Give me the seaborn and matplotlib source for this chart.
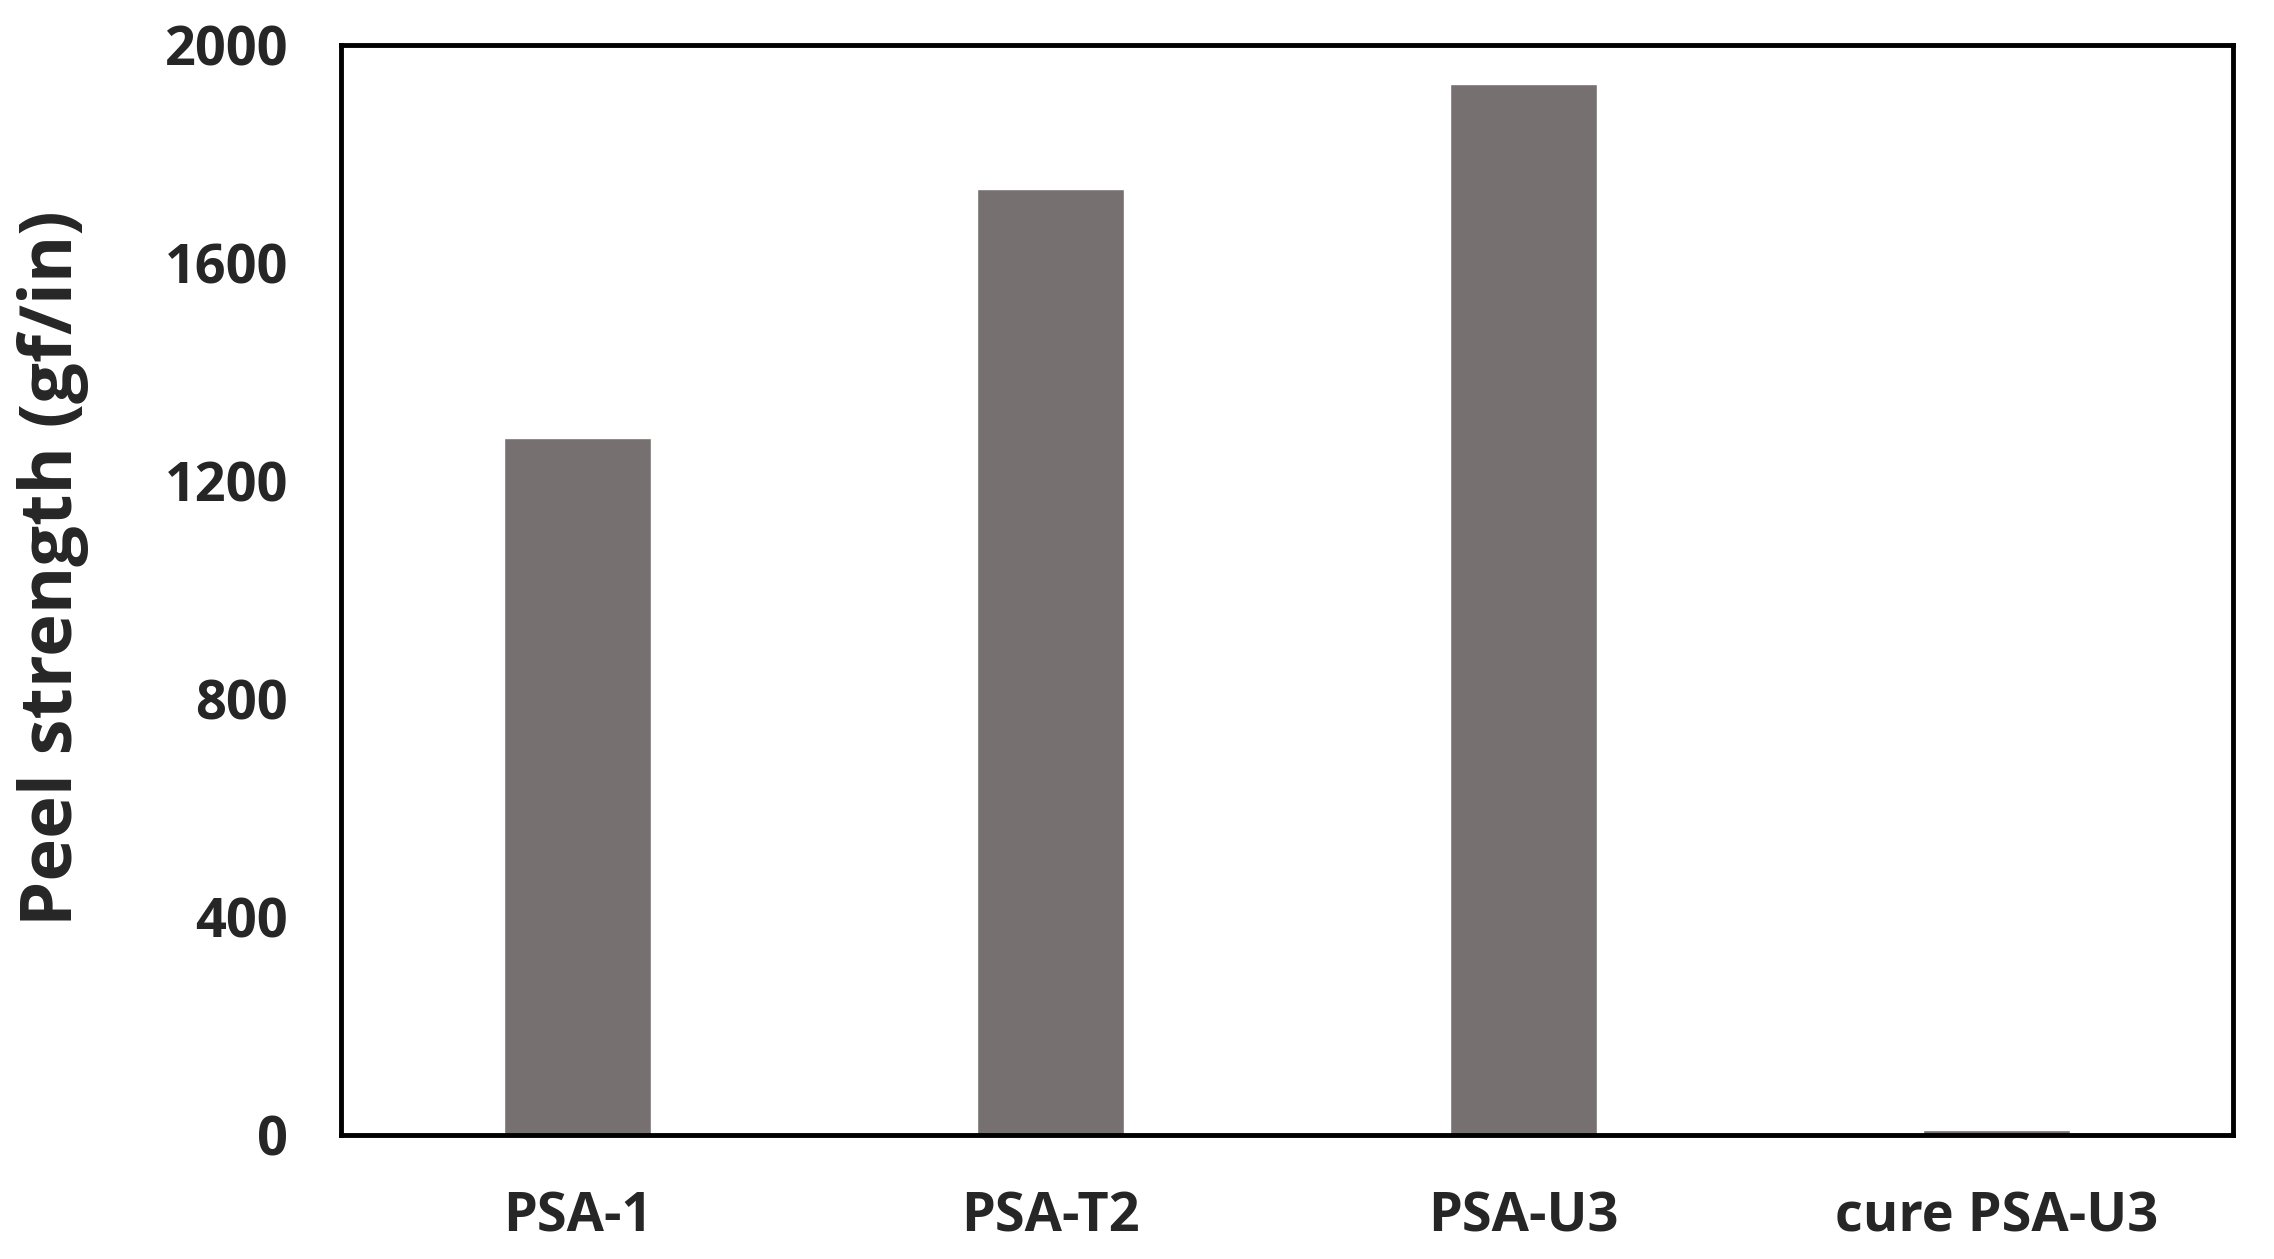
import pandas as pd
import matplotlib.pyplot as plt
import seaborn as sns

samples = ["PSA-1", "PSA-T2", "PSA-U3", "cure PSA-U3"]
peel = [1278, 1736, 1928, 10]

df = pd.DataFrame({"sample": samples, "peel": peel})

sns.set_style("white")
plt.rcParams['font.family'] = ['Open Sans', 'DejaVu Sans']

fig = plt.figure(figsize=(22.74, 12.59), dpi=100)
ax = fig.add_axes([341 / 2274, 1 - 1135 / 1259, (2233 - 341) / 2274, (1135 - 45) / 1259])

sns.barplot(data=df, x="sample", y="peel", color="#767170", saturation=1, width=0.31, ax=ax)

ax.set_xlim(-0.5, 3.5)
ax.set_ylim(0, 2000)
ax.set_yticks([0, 400, 800, 1200, 1600, 2000])
ax.set_xlabel("")
ax.set_ylabel("Peel strength (gf/in)", fontsize=52, fontweight="bold")
ax.yaxis.set_label_coords(-0.133, 0.52)
ax.tick_params(axis="x", length=0, labelsize=39, pad=40)
ax.tick_params(axis="y", length=0, labelsize=39, pad=38)
for lbl in ax.get_xticklabels() + ax.get_yticklabels():
    lbl.set_fontweight("bold")
for s in ax.spines.values():
    s.set_color("black")
    s.set_linewidth(3.5)

fig.savefig("out.png", dpi=100)
